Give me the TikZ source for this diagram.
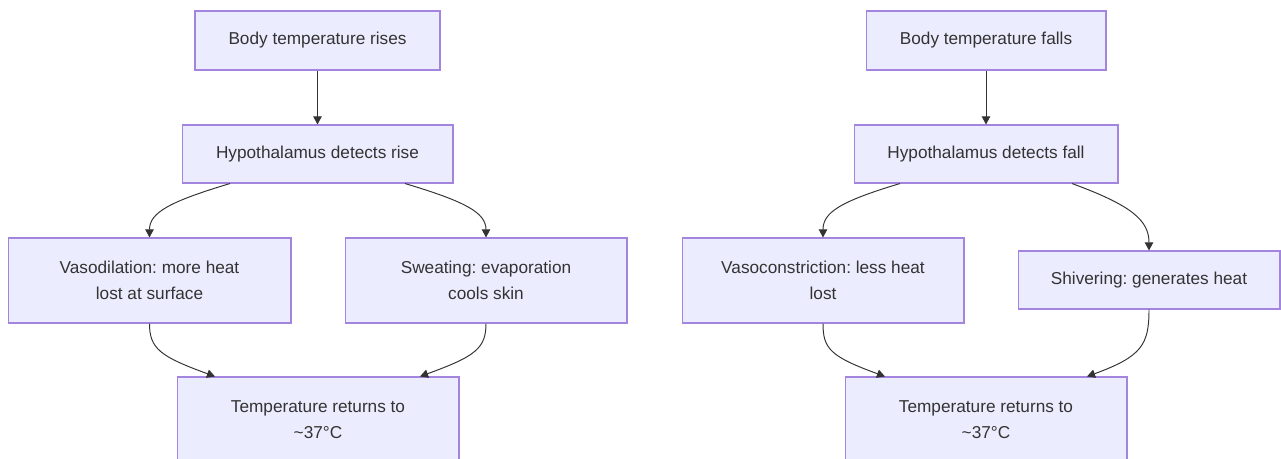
\documentclass[tikz,border=0pt]{standalone}
\usepackage{fontspec}
\setmainfont{Liberation Sans}
\frenchspacing
\usetikzlibrary{arrows.meta}
\definecolor{fondboite}{HTML}{ECECFF}
\definecolor{bordboite}{HTML}{9370DB}
\definecolor{trait}{HTML}{333333}
\tikzstyle{etape} = [rectangle, draw=bordboite!85!white, fill=fondboite, line width=0.6pt, text=trait, font=\fontsize{9.8}{14.7}\selectfont, align=center, inner sep=0pt, minimum height=1.7cm]
\tikzstyle{fleche} = [draw=trait, line width=0.55pt, -{Triangle[length=4.6pt,width=4.8pt]}]

\begin{document}
\begin{tikzpicture}[x=0.02cm, y=-0.02cm]

        \useasboundingbox (0,0) rectangle (1281,459);

        % hausse de temperature
        \node (hausse) [etape, minimum width=4.9cm, minimum height=1.18cm] at (317.5,40.5) {Body temperature rises};
        \node (detecteH) [etape, minimum width=5.42cm, minimum height=1.16cm] at (317.5,154) {Hypothalamus detects rise};
        \node (vasodil) [etape, minimum width=5.66cm] at (149.5,280.5) {Vasodilation: more heat\\lost at surface};
        \node (sueur) [etape, minimum width=5.64cm] at (486,280.5) {Sweating: evaporation\\cools skin};
        \node (retourH) [etape, minimum width=5.64cm] at (318,419.5) {Temperature returns to\\\textasciitilde37°C};

        % baisse de temperature
        \node (baisse) [etape, minimum width=4.8cm, minimum height=1.18cm] at (986,40.5) {Body temperature falls};
        \node (detecteB) [etape, minimum width=5.28cm, minimum height=1.16cm] at (986,154) {Hypothalamus detects fall};
        \node (vasocons) [etape, minimum width=5.64cm] at (823,280.5) {Vasoconstriction: less heat\\lost};
        \node (frisson) [etape, minimum width=5.24cm, minimum height=1.16cm] at (1149,280) {Shivering: generates heat};
        \node (retourB) [etape, minimum width=5.64cm] at (986,419.5) {Temperature returns to\\\textasciitilde37°C};

        \draw[fleche] (hausse) -- (detecteH);
        \draw[fleche] ([xshift=-1.75cm]detecteH.south) .. controls +(-60,18) and +(0,-25) .. (vasodil.north);
        \draw[fleche] ([xshift=1.75cm]detecteH.south) .. controls +(60,18) and +(0,-25) .. (sueur.north);
        \draw[fleche] (vasodil.south) .. controls +(0,25) and +(-55,-20) .. ([xshift=-2.06cm]retourH.north);
        \draw[fleche] (sueur.south) .. controls +(0,25) and +(55,-20) .. ([xshift=2.04cm]retourH.north);

        \draw[fleche] (baisse) -- (detecteB);
        \draw[fleche] ([xshift=-1.72cm]detecteB.south) .. controls +(-60,18) and +(0,-25) .. (vasocons.north);
        \draw[fleche] ([xshift=1.72cm]detecteB.south) .. controls +(60,22) and +(0,-30) .. (frisson.north);
        \draw[fleche] (vasocons.south) .. controls +(0,25) and +(-55,-20) .. ([xshift=-2.02cm]retourB.north);
        \draw[fleche] (frisson.south) .. controls +(0,35) and +(55,-20) .. ([xshift=2.02cm]retourB.north);

    \end{tikzpicture}
\end{document}
